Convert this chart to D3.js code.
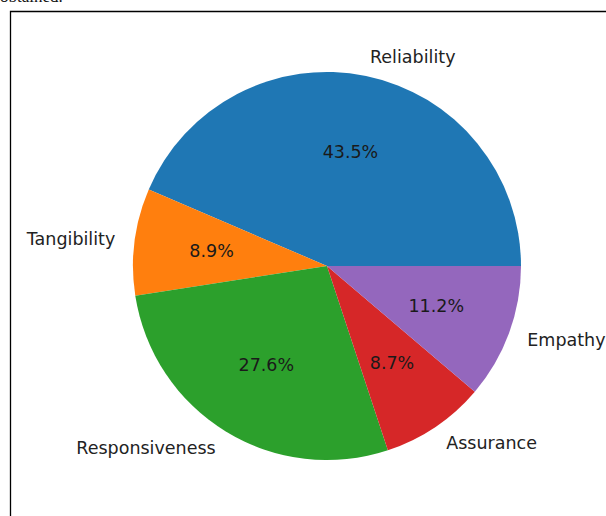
<!DOCTYPE html>
<html>
<head>
<meta charset="utf-8">
<script src="https://cdn.jsdelivr.net/npm/d3@7"></script>
<style>
  body { margin: 0; background: #fff; }
  svg { display: block; }
</style>
</head>
<body>
<div id="container"></div>
<script>
const categories = ["Reliability", "Tangibility", "Responsiveness", "Assurance", "Empathy"];
const shares = [43.5, 8.9, 27.6, 8.7, 11.2];
const colors = ["#1f77b4", "#ff7f0e", "#2ca02c", "#d62728", "#9467bd"];

const width = 606;
const height = 516;
const cx = 327, cy = 266, radius = 194;

const svg = d3.select("#container").append("svg")
  .attr("width", width).attr("height", height);

// caption line above the figure, mostly cropped away as in the source
svg.append("text")
  .attr("x", 0).attr("y", 1.5)
  .style("font-family", "Liberation Serif, serif")
  .style("font-size", "17px")
  .attr("fill", "#111")
  .text("obtained.");

// figure frame (right / bottom edges fall outside the crop)
svg.append("path")
  .attr("d", "M10.5," + height + "V11.5H" + width)
  .attr("fill", "none")
  .attr("stroke", "#000")
  .attr("stroke-width", 1.3);

const total = d3.sum(shares);
const data = categories.map((c, i) => ({ name: c, value: shares[i], color: colors[i] }));

// matplotlib-style: start at 3 o'clock, go counter-clockwise
const pie = d3.pie()
  .value(d => d.value)
  .sort(null)
  .startAngle(Math.PI / 2)
  .endAngle(Math.PI / 2 - 2 * Math.PI);

const arcs = pie(data);
const arc = d3.arc().innerRadius(0).outerRadius(radius);

const g = svg.append("g").attr("transform", "translate(" + cx + "," + cy + ")");

g.selectAll("path.slice")
  .data(arcs)
  .enter()
  .append("path")
  .attr("class", "slice")
  .attr("d", arc)
  .attr("fill", d => d.data.color);

const mid = d => (d.startAngle + d.endAngle) / 2;
// d3 angle: 0 at 12 o'clock, clockwise -> x = sin, y = -cos
const px = (d, k) => Math.sin(mid(d)) * radius * k;
const py = (d, k) => -Math.cos(mid(d)) * radius * k;

g.selectAll("text.label")
  .data(arcs)
  .enter()
  .append("text")
  .attr("class", "label")
  .attr("x", d => px(d, 1.1))
  .attr("y", d => py(d, 1.1))
  .attr("text-anchor", d => px(d, 1.1) >= 0 ? "start" : "end")
  .attr("dominant-baseline", "central")
  .style("font-family", "DejaVu Sans, sans-serif")
  .style("font-size", "17.5px")
  .attr("fill", "#222")
  .text(d => d.data.name);

g.selectAll("text.pct")
  .data(arcs)
  .enter()
  .append("text")
  .attr("class", "pct")
  .attr("x", d => px(d, 0.6))
  .attr("y", d => py(d, 0.6))
  .attr("text-anchor", "middle")
  .attr("dominant-baseline", "central")
  .style("font-family", "DejaVu Sans, sans-serif")
  .style("font-size", "17.5px")
  .attr("fill", "#1a1a1a")
  .text(d => (d.data.value / total * 100).toFixed(1) + "%");
</script>
</body>
</html>
